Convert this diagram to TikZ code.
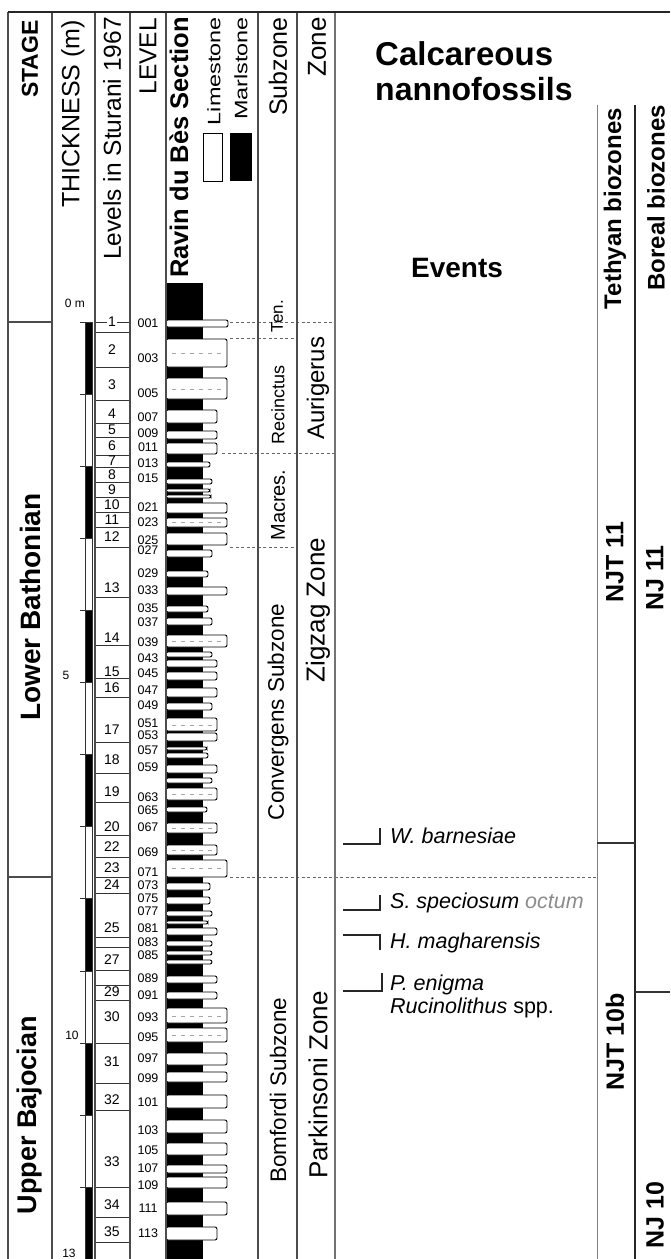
\documentclass[tikz,border=0pt]{standalone}
\usepackage{fontspec}
\setmainfont{Liberation Sans}
\begin{document}
\begin{tikzpicture}[x=1pt,y=-1pt,
  colline/.style={draw=black!70,line width=1.1pt},
  boxline/.style={draw=black!80,line width=0.8pt},
  sepdash/.style={draw=black!60,line width=0.8pt,dash pattern=on 3pt off 2.5pt},
  vtxt/.style={rotate=90,inner sep=0pt},
  hdr/.style={vtxt,anchor=east},
  lvl/.style={inner sep=0pt,font=\fontsize{12.5}{12.5}\selectfont},
  stu/.style={inner sep=0pt,font=\fontsize{14}{14}\selectfont},
  lime/.style={draw=black,line width=0.9pt,fill=white,rounded corners=2pt},
  nodu/.style={draw=black!35,line width=0.6pt,dash pattern=on 4pt off 5pt},
  evt/.style={anchor=base west,inner sep=0pt,font=\fontsize{21.5}{21.5}\selectfont\itshape},
  evmark/.style={line width=2.6pt,draw=black!85},
  fs/.style={font=\fontsize{#1}{#1}\selectfont},
  fsb/.style={font=\fontsize{#1}{#1}\selectfont\bfseries}
]
\useasboundingbox (0,0) rectangle (670,1259);

% ---- thickness scale bar
\foreach \m in {0,2,...,12}{
  \fill[black] (85,{322+72.1*\m}) rectangle (92,{322+72.1*(\m+1)});
}
\foreach \m in {0,...,12}{
  \draw[boxline] (80,{322+72.1*\m}) -- (92,{322+72.1*\m});
}
\draw[boxline] (85,322) -- (85,1259) (92,322) -- (92,1259);
\node[fs=12,inner sep=0pt] (t0) at (75,303) {0 m};
\node[fs=12,inner sep=0pt] (t5) at (66,675) {5};
\node[fs=12,inner sep=0pt] (t10) at (72,1035) {10};
\node[fs=12,inner sep=0pt] (t13) at (69,1253) {13};

% ---- Sturani levels boxes
\foreach \y in {322,332,367,400,423,437,455,467,482,497,512,527,547,597,645,678,697,742,773,802,835,857,877,893,937,947,970,985,1000,1043,1083,1110,1187,1217,1242}{
  \draw[boxline] (95,\y) -- (130,\y);
}
\foreach \n/\y in {2/350,3/385,4/414,5/430,6/446,7/461,8/475,9/490,10/505,11/520,12/537,13/588,14/638,15/672,16/688,17/730,18/760,19/792,20/827,22/847,23/868,24/885,25/928,27/960,29/992,30/1017,31/1062,32/1100,33/1162,34/1205,35/1232}{
  \node[stu] (st\n) at (112,\y) {\n};
}
\node[stu,fill=white,inner sep=1pt] (st1) at (112,322) {1};

% ---- lithology column
\fill[black] (166,283) rectangle (203,1259);
\foreach \a/\b/\r in {320/327/228,339/367/227,378/399/227,410/423/217,431/439/217,443/454/217,
  462/467/210,479/484/212,489/492/210,495/498/211,503/513/227,518/527/227,533/545/227,550/557/212,
  571/577/208,587/595/227,606/612/208,618/625/212,635/647/227,652/657/212,660/667/217,672/680/217,
  688/697/217,703/710/212,718/731/217,733/741/217,747/750/207,753/758/208,765/773/217,778/783/212,
  788/800/217,807/812/207,823/833/217,845/855/217,860/877/227,883/890/210,897/904/210,911/916/212,
  921/924/208,928/935/217,941/946/212,951/955/212,960/964/212,976/983/217,992/999/217,1008/1023/227,
  1028/1042/227,1053/1065/227,1072/1082/227,1095/1108/227,1120/1133/227,1143/1155/227,1165/1173/227,
  1177/1188/227,1202/1215/227,1227/1240/217}{
  \draw[lime] (166,\a) rectangle (\r,\b);
}
\foreach \y/\r in {353/222,389/222,522/222,641/222,725/212,794/212,828/212,850/212,868/222,1016/222,1035/222}{
  \draw[nodu] (172,\y) -- (\r,\y);
}

% ---- LEVEL labels
\foreach \n/\y in {001/323,003/358,005/393,007/417,009/433,011/447,013/463,015/478,021/507,023/522,
  025/540,027/550,029/573,033/590,035/608,037/622,039/642,043/658,045/673,047/690,049/705,051/723,
  053/735,057/750,059/767,063/797,065/810,067/827,069/852,071/872,073/885,075/898,077/911,081/928,
  083/942,085/955,089/978,091/995,093/1017,095/1037,097/1058,099/1078,101/1102,103/1130,105/1150,
  107/1168,109/1185,111/1208,113/1233}{
  \node[lvl] (lv\n) at (148,\y) {\n};
}

% ---- dashed correlation lines
\draw[sepdash] (230,322) -- (335,322);
\draw[sepdash] (230,338) -- (297,338);
\draw[sepdash] (222,453) -- (335,453);
\draw[sepdash] (230,547) -- (297,547);
\draw[sepdash] (230,877) -- (598,877);

% ---- frame and columns
\foreach \x in {8,52,95,130,166,258,297}{
  \draw[colline] (\x,12) -- (\x,1259);
}
\draw[draw=black!55,line width=1.6pt] (335,12) -- (335,1259);
\draw[draw=black!85,line width=2.6pt] (8,12) -- (670,12);
\draw[colline] (8,322) -- (52,322) (8,877) -- (52,877);

% ---- header
\node[hdr,fsb=23] (hStage) at (30,20) {STAGE};
\node[hdr,fs=25] (hThick) at (73,20) {THICKNESS (m)};
\node[hdr,fs=24.5] (hStur) at (112,17) {Levels in Sturani 1967};
\node[hdr,fs=24.5] (hLevel) at (148,18) {LEVEL};
\node[hdr,fsb=25.5] (hRavin) at (179,17) {Ravin du Bès Section};
\node[hdr,fs=18] (hLime) at (214,17) {\scalebox{1.3}[1]{Limestone}};
\node[hdr,fs=18] (hMarl) at (241,17) {\scalebox{1.3}[1]{Marlstone}};
\draw[line width=0.9pt,fill=white] (203,133) rectangle (222,181);
\fill[black] (230,133) rectangle (252,181);
\node[hdr,fs=25] (hSub) at (278,17) {Subzone};
\node[hdr,fs=26] (hZone) at (317,17) {Zone};

% ---- stages
\node[vtxt,fsb=28] (sLB) at (30,607) {Lower Bathonian};
\node[vtxt,fsb=27] (sUB) at (30,1115) {Upper Bajocian};

% ---- subzones / zones
\node[vtxt,fs=17] (zTen) at (277,316) {Ten.};
\node[vtxt,fs=18] (zRec) at (278,405) {Recinctus};
\node[vtxt,fs=20] (zMac) at (278,505) {Macres.};
\node[vtxt,fs=22.5] (zCon) at (278,712) {Convergens Subzone};
\node[vtxt,fs=22.5] (zBom) at (278,1090) {Bomfordi Subzone};
\node[vtxt,fs=24] (zAur) at (318,388) {Aurigerus};
\node[vtxt,fs=26] (zZig) at (318,610) {Zigzag Zone};
\node[vtxt,fs=26] (zPar) at (318,1085) {Parkinsoni Zone};

% ---- nannofossil panel
\node[anchor=base west,inner sep=0pt,fsb=33] (nCal) at (375,65) {Calcareous};
\node[anchor=base west,inner sep=0pt,fsb=32] (nNan) at (375,100) {nannofossils};
\node[anchor=base,inner sep=0pt,fsb=28] (nEv) at (457,277) {Events};
\draw[draw=black!50,line width=1pt] (597,105) -- (597,1259);
\draw[draw=black!85,line width=1.2pt] (635,105) -- (635,1259);
\draw[draw=black!80,line width=1.1pt] (597,843) -- (635,843);
\draw[draw=black!80,line width=1.1pt] (635,992) -- (670,992);
\node[hdr,fsb=24] (nTet) at (615,108) {Tethyan biozones};
\node[hdr,fsb=24] (nBor) at (656,105) {Boreal biozones};
\node[vtxt,fsb=25] (zNJT11) at (615,562) {NJT 11};
\node[vtxt,fsb=25] (zNJ11) at (655,578) {NJ 11};
\node[vtxt,fsb=25] (zNJT10) at (615,1042) {NJT 10b};
\node[vtxt,fsb=25] (zNJ10) at (655,1215) {NJ 10};

% ---- events
\node[evt] (e1) at (390,843) {W. barnesiae};
\node[evt] (e2) at (390,908) {S. speciosum {\color{black!45}octum}};
\node[evt] (e3) at (390,948) {H. magharensis};
\node[evt] (e4) at (390,990) {P. enigma};
\node[evt] (e5) at (390,1013) {Rucinolithus \upshape spp.};
\draw[evmark] (343,844) -- (380,844) -- (380,828);
\draw[evmark] (343,910) -- (380,910) -- (380,895);
\draw[evmark] (343,935) -- (380,935) -- (380,950);
\draw[evmark] (343,991) -- (382,991) -- (382,973);
\end{tikzpicture}
\end{document}
